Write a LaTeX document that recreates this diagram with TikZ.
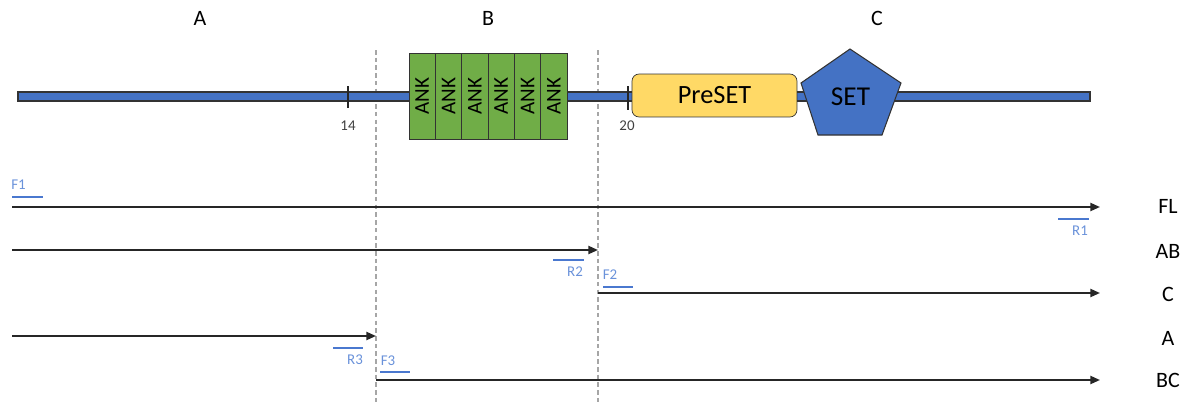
\documentclass[tikz,border=0pt]{standalone}
\usepackage{fontspec}
\setmainfont{Carlito}
\usetikzlibrary{arrows.meta,shapes.geometric}

\definecolor{barblue}{HTML}{4472C4}
\definecolor{ankgreen}{HTML}{70AD47}
\definecolor{presetyellow}{HTML}{FFD966}
\definecolor{primerblue}{HTML}{4A78CF}
\definecolor{primertext}{HTML}{6A92DA}

\begin{document}
\begin{tikzpicture}[ x=0.02cm, y=-0.02cm, >={Triangle[length=5.5pt,width=4.6pt]},
    amplicon/.style={->, line width=1.1pt, black!85},
    primer/.style={line width=1.6pt, primerblue},
    primerlabel/.style={text=primertext, font=\fontsize{8.5}{10}\selectfont, inner sep=0pt},
    rowlabel/.style={font=\fontsize{12.5}{14}\selectfont, inner sep=0pt},
    region/.style={font=\fontsize{12.5}{14}\selectfont, inner sep=0pt},
    tick/.style={line width=0.8pt, black!85},
    ticklabel/.style={font=\fontsize{8.5}{10}\selectfont, text=black!75, inner sep=0pt},
    ankbox/.style={draw=black!80, fill=ankgreen, rotate=90, minimum width=1.72cm, minimum height=0.527cm, inner sep=0pt, font=\fontsize{12}{13}\selectfont},
    cut/.style={gray!70, line width=0.9pt, dash pattern=on 2.6pt off 1.8pt} ]
    \useasboundingbox (0,0) rectangle (1188,403);
    \def\lx{12}
    \def\rx{1100}

    % Regions
    \node[region] (ra) at (200,18) {A};
    \node[region] (rb) at (488,18) {B};
    \node[region] (rc) at (877,18) {C};
    \draw[cut] (376,50) -- (376,403);
    \draw[cut] (598,50) -- (598,403);

    % --- Protein ---
    \draw[draw=black!80, fill=barblue, line width=0.6pt] (18,92) rectangle (1090,101);
    \draw[tick] (348,86) -- (348,108);
    \node[ticklabel] (t14) at (348,126) {14};
    \draw[tick] (628,86) -- (628,110);
    \node[ticklabel] (t20) at (627,126) {20};
    \foreach \i in {0,...,5}
      \node[ankbox] (ank\i) at ({422.2+26.33*\i},96) {ANK};
    \node[draw=black!80, fill=presetyellow, rounded corners=4pt, minimum width=3.3cm, minimum height=0.86cm,
          font=\fontsize{15}{17}\selectfont] (preset) at (714.5,95.5) {PreSET};
    \draw[draw=black!80, fill=barblue, line width=0.6pt] (850,49) -- (901,83) -- (882,135) -- (818,135) -- (801,83) -- cycle;
    \node[font=\fontsize{15.5}{17}\selectfont] (set) at (850.5,97) {SET};

    % --- Amplicons ---
    \coordinate (fl-s) at (\lx,207);  \coordinate (fl-e) at (\rx,207);
    \coordinate (ab-s) at (\lx,250);  \coordinate (ab-e) at (598,250);
    \coordinate (c-s)  at (598,293);  \coordinate (c-e)  at (\rx,293);
    \coordinate (a-s)  at (\lx,336);  \coordinate (a-e)  at (376,336);
    \coordinate (bc-s) at (376,380);  \coordinate (bc-e) at (\rx,380);
    \draw[amplicon] (fl-s) -- (fl-e);
    \draw[amplicon] (ab-s) -- (ab-e);
    \draw[amplicon] (c-s) -- (c-e);
    \draw[amplicon] (a-s) -- (a-e);
    \draw[amplicon] (bc-s) -- (bc-e);
    \node[rowlabel] (lfl) at (1168,206) {FL};
    \node[rowlabel] (lab) at (1168,251) {AB};
    \node[rowlabel] (lc)  at (1168,294) {C};
    \node[rowlabel] (la)  at (1168,338) {A};
    \node[rowlabel] (lbc) at (1168,380) {BC};

    % Primers
    \draw[primer] (12,197) -- (43,197);
    \node[primerlabel] (f1) at (18.5,185) {F1};
    \draw[primer] (1058,219) -- (1089,219);
    \node[primerlabel] (r1) at (1080,231) {R1};
    \draw[primer] (553,260) -- (584,260);
    \node[primerlabel] (r2) at (575,272) {R2};
    \draw[primer] (603,287) -- (633,287);
    \node[primerlabel] (f2) at (610,275) {F2};
    \draw[primer] (333,348) -- (363,348);
    \node[primerlabel] (r3) at (355,360) {R3};
    \draw[primer] (380,372) -- (410,372);
    \node[primerlabel] (f3) at (388,361) {F3};
  \end{tikzpicture}
\end{document}
